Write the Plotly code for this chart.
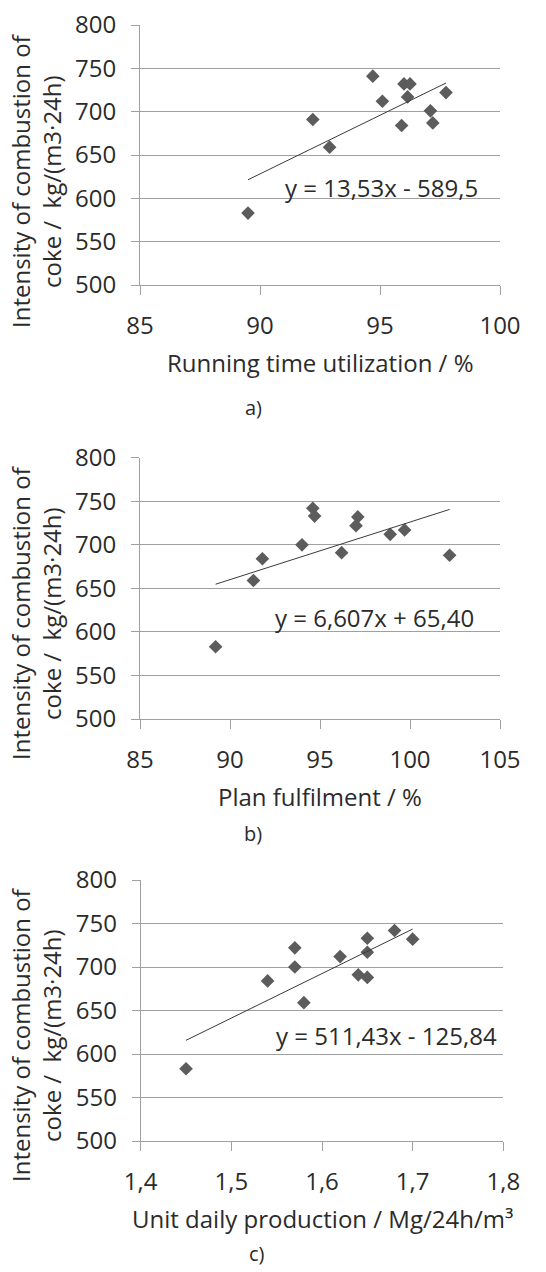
import plotly.graph_objects as go

# ---- data ----
y_intensity_a = [583, 691, 659, 741, 712, 684, 732, 732, 717, 701, 687, 722]
x_running_time = [89.5, 92.2, 92.9, 94.7, 95.1, 95.9, 96.0, 96.25, 96.15, 97.1, 97.2, 97.75]

x_plan = [89.2, 91.3, 91.8, 94.0, 94.6, 94.7, 96.2, 97.0, 97.1, 98.9, 99.7, 102.2]
y_intensity_b = [583, 659, 684, 700, 742, 733, 691, 722, 732, 712, 717, 688]

x_unit_prod = [1.45, 1.54, 1.57, 1.57, 1.58, 1.62, 1.64, 1.65, 1.65, 1.65, 1.68, 1.70]
y_intensity_c = [583, 684, 722, 700, 659, 712, 691, 733, 717, 688, 742, 732]

trend_a = (13.53, -589.5)
trend_b = (6.607, 65.40)
trend_c = (511.43, -125.84)

eq_a = "y = 13,53x - 589,5"
eq_b = "y = 6,607x + 65,40"
eq_c = "y = 511,43x - 125,84"

x_ticks_a = [85, 90, 95, 100]
x_ticks_b = [85, 90, 95, 100, 105]
x_ticks_c = [1.4, 1.5, 1.6, 1.7, 1.8]
x_ticktext_c = ["1,4", "1,5", "1,6", "1,7", "1,8"]
y_ticks = [500, 550, 600, 650, 700, 750, 800]

x_titles = ["Running time utilization / %", "Plan fulfilment / %",
            "Unit daily production / Mg/24h/m³"]
y_title = "Intensity of combustion of<br>coke /  kg/(m3·24h)"
captions = ["a)", "b)", "c)"]

# ---- layout geometry (pixels) ----
W, H = 546, 1272
FONT = "Open Sans"
TXT = "#2b2b2b"
GRID = "#a0a0a0"
MARK = "#5c5c5c"

def px(x):
    return x / W

def py(y):
    return 1 - y / H

panels = [
    dict(xd=(140, 500), yd=(25, 285), x=x_running_time, y=y_intensity_a, tr=trend_a,
         xr=(85, 100), xt=x_ticks_a, xtt=[str(v) for v in x_ticks_a], eq=eq_a,
         eqpos=(381, 188), ytpos=181, cap=(253, 408)),
    dict(xd=(140, 500), yd=(457.7, 719), x=x_plan, y=y_intensity_b, tr=trend_b,
         xr=(85, 105), xt=x_ticks_b, xtt=[str(v) for v in x_ticks_b], eq=eq_b,
         eqpos=(374, 617), ytpos=613, cap=(253, 833)),
    dict(xd=(140.7, 503.3), yd=(880, 1141), x=x_unit_prod, y=y_intensity_c, tr=trend_c,
         xr=(1.4, 1.8), xt=x_ticks_c, xtt=x_ticktext_c, eq=eq_c,
         eqpos=(386, 1035), ytpos=1035, cap=(257, 1253)),
]

fig = go.Figure()
annotations = []
layout = {}
for i, p in enumerate(panels):
    n = "" if i == 0 else str(i + 1)
    xa, ya = "x" + n, "y" + n
    fig.add_trace(go.Scatter(
        x=p["x"], y=p["y"], mode="markers", xaxis=xa, yaxis=ya,
        marker=dict(symbol="diamond", size=10.5, color=MARK, line=dict(width=0)),
        showlegend=False, cliponaxis=False))
    a, b = p["tr"]
    x0, x1 = min(p["x"]), max(p["x"])
    fig.add_trace(go.Scatter(
        x=[x0, x1], y=[a * x0 + b, a * x1 + b], mode="lines", xaxis=xa, yaxis=ya,
        line=dict(color="#3a3a3a", width=1), showlegend=False))
    layout["xaxis" + n] = dict(
        domain=[px(p["xd"][0]), px(p["xd"][1])], anchor=ya, range=list(p["xr"]),
        tickvals=p["xt"], ticktext=p["xtt"], showgrid=False, zeroline=False,
        showline=True, linecolor=GRID, linewidth=1, automargin=False,
        ticks="outside", ticklen=9, tickcolor=GRID, tickwidth=1,
        tickfont=dict(family=FONT, size=24, color=TXT), ticklabelstandoff=10,
        ticklabeloverflow="allow", fixedrange=True)
    layout["yaxis" + n] = dict(
        domain=[py(p["yd"][1]), py(p["yd"][0])], anchor=xa, range=[500, 800],
        tickvals=y_ticks, showgrid=True, gridcolor=GRID, gridwidth=1, zeroline=False,
        showline=True, linecolor=GRID, linewidth=1, automargin=False,
        ticks="outside", ticklen=8, tickcolor=GRID, tickwidth=1,
        tickfont=dict(family=FONT, size=24, color=TXT), ticklabelstandoff=10,
        ticklabeloverflow="allow", fixedrange=True)
    # equation
    annotations.append(dict(text=p["eq"], x=px(p["eqpos"][0]), y=py(p["eqpos"][1]),
                            xref="paper", yref="paper", showarrow=False,
                            xanchor="center", yanchor="middle",
                            font=dict(family=FONT, size=24, color=TXT)))
    # x title
    annotations.append(dict(text=x_titles[i], x=px((p["xd"][0] + p["xd"][1]) / 2),
                            y=py(p["yd"][1] + 77), xref="paper", yref="paper",
                            showarrow=False, xanchor="center", yanchor="middle",
                            font=dict(family=FONT, size=24, color=TXT)))
    # y title
    annotations.append(dict(text=y_title, x=px(36), y=py(p["ytpos"]),
                            xref="paper", yref="paper", showarrow=False, textangle=-90,
                            xanchor="center", yanchor="middle",
                            font=dict(family=FONT, size=24, color=TXT)))
    # caption
    annotations.append(dict(text=captions[i], x=px(p["cap"][0]), y=py(p["cap"][1]),
                            xref="paper", yref="paper", showarrow=False,
                            xanchor="center", yanchor="middle",
                            font=dict(family=FONT, size=20, color=TXT)))

fig.update_layout(
    width=W, height=H, margin=dict(l=0, r=0, t=0, b=0, autoexpand=False),
    paper_bgcolor="white", plot_bgcolor="white", hovermode=False,
    annotations=annotations, **layout)

fig.write_html("out.html", config={"displayModeBar": False, "staticPlot": True},
               post_script="document.body.style.margin='0';document.body.style.overflow='hidden';")
